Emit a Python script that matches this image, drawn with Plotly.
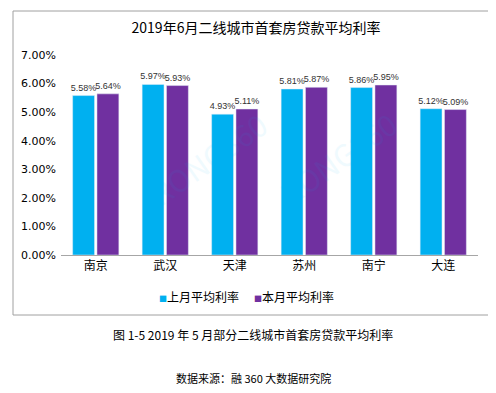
import plotly.graph_objects as go

cities = ["南京", "武汉", "天津", "苏州", "南宁", "大连"]
last_month = [5.58, 5.97, 4.93, 5.81, 5.86, 5.12]
this_month = [5.64, 5.93, 5.11, 5.87, 5.95, 5.09]
series_names = ["上月平均利率", "本月平均利率"]
series_colors = ["#00B0F0", "#7030A0"]
y_ticks = [0, 1, 2, 3, 4, 5, 6, 7]

W, H = 496, 393
L, R, T, B = 53, 26, 47, 146
pw, ph = W - L - R, H - T - B

def px_x(x):
    return (x - L) / pw

def px_y(y):
    return (H - B - y) / ph

font_cn = "Noto Sans CJK SC, DejaVu Sans, sans-serif"

fig = go.Figure()
for name, vals, col in zip(series_names, [last_month, this_month], series_colors):
    fig.add_trace(go.Bar(
        x=cities, y=vals, name=name, marker_color=col,
        text=[f"{v:.2f}%" for v in vals], textposition="outside",
        constraintext="none",
        textfont=dict(size=9, color="#333333", family="Liberation Sans, Arial, sans-serif"),
        cliponaxis=False, showlegend=False,
    ))

fig.update_layout(
    width=W, height=H,
    margin=dict(l=L, r=R, t=T, b=B),
    paper_bgcolor="white", plot_bgcolor="white",
    barmode="group", bargap=0.3, bargroupgap=0.1,
    font=dict(family=font_cn, color="#000000"),
    title=dict(text="2019年6月二线城市首套房贷款平均利率", x=0.5, xanchor="center",
               y=1 - 20 / H, yanchor="middle", font=dict(size=14, color="#000000")),
    xaxis=dict(showline=True, linecolor="#A6A6A6", linewidth=1, ticks="",
               tickfont=dict(size=12, color="#000000"), showgrid=False),
    yaxis=dict(range=[0, 7], tickvals=y_ticks, ticktext=[f"{v:.2f}%" for v in y_ticks],
               showgrid=False, zeroline=False, showline=False, ticklabelstandoff=4,
               tickfont=dict(size=11, color="#000000", family="DejaVu Sans, sans-serif")),
)

fig.add_shape(type="rect", xref="paper", yref="paper",
              x0=px_x(5), x1=px_x(485), y0=px_y(307), y1=px_y(3),
              line=dict(color="#A0A0A0", width=1), layer="below")

# legend
for i, (name, col) in enumerate(zip(series_names, series_colors)):
    fig.add_annotation(
        text=f"<span style='color:{col};font-size:8px'>■</span>{name}",
        xref="paper", yref="paper", x=px_x(149 + i * 95), y=px_y(288),
        xanchor="left", yanchor="middle", showarrow=False,
        font=dict(size=12, color="#000000"))

fig.add_annotation(text="图 1-5 2019 年 5 月部分二线城市首套房贷款平均利率",
                   xref="paper", yref="paper", x=px_x(245), y=px_y(337),
                   showarrow=False, font=dict(size=12, color="#000000"))
fig.add_annotation(text="数据来源：融 360 大数据研究院",
                   xref="paper", yref="paper", x=px_x(245), y=px_y(380),
                   showarrow=False, font=dict(size=11, color="#000000"))

for wx, wy in [(130, 150), (400, 150)]:
    fig.add_annotation(text="RONG360", xref="paper", yref="paper", x=px_x(wx), y=px_y(wy),
                       showarrow=False, textangle=-35, opacity=0.06,
                       font=dict(size=30, color="#00B0F0"))

fig.write_html("out.html")
